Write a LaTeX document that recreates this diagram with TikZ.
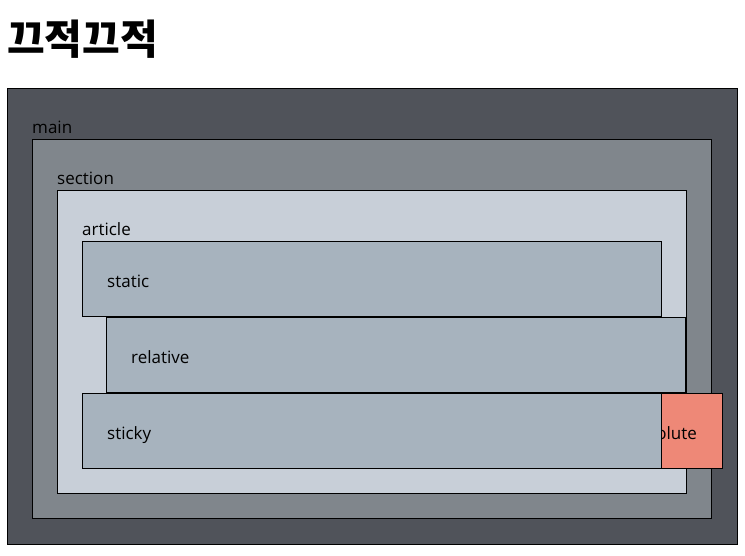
\documentclass[tikz,border=0pt]{standalone}
\usepackage{fontspec}
\setmainfont{Open Sans}
\newfontfamily\krfont{Noto Sans CJK KR}
\usetikzlibrary{positioning}
\definecolor{mainfill}{HTML}{50535A}
\definecolor{sectionfill}{HTML}{80868C}
\definecolor{articlefill}{HTML}{C8CFD8}
\definecolor{itemfill}{HTML}{A7B3BE}
\definecolor{absfill}{HTML}{EE8877}
\tikzset{x=1pt, y=-1pt,
box/.style={ % Sets the properties for each layout box
draw=black,
line width=1pt,
inner sep=0pt,
outer sep=0pt,
anchor=north west},
item/.style={ % The four positioned boxes
box,
fill=itemfill,
minimum width=579pt,
minimum height=75pt},
tag/.style={ % Labels inside the boxes
anchor=base west,
inner sep=0pt,
font=\fontsize{17}{20}\selectfont}}

\begin{document}
\begin{tikzpicture}
\useasboundingbox[fill=white] (0,0) rectangle (745,555);
\node[anchor=base west, inner sep=0pt, font=\krfont\bfseries\fontsize{41}{48}\selectfont] (title) at (7,54) {끄적끄적};
\node[box, fill=mainfill, minimum width=730pt, minimum height=456pt] (main) at (7,88) {};
\node[tag] (mainlabel) at (32,133) {main};
\node[box, fill=sectionfill, minimum width=679pt, minimum height=379pt] (section) at (32,139) {};
\node[tag] (sectionlabel) at (57,184) {section};
\node[box, fill=articlefill, minimum width=629pt, minimum height=303pt] (article) at (57,190) {};
\node[tag] (articlelabel) at (82,235) {article};
\node[item] (static) at (82,241) {};
\node[tag] (staticlabel) at (107,287) {static};
\node[item] (relative) at (106,317) {};
\node[tag] (relativelabel) at (131,363) {relative};
\node[box, fill=absfill, minimum width=109pt, minimum height=75pt] (absolute) at (613,393) {};
\node[tag, anchor=base east] (absolutelabel) at (697,439) {absolute};
\node[item] (sticky) at (82,393) {};
\node[tag] (stickylabel) at (107,439) {sticky};
\end{tikzpicture}
\end{document}
